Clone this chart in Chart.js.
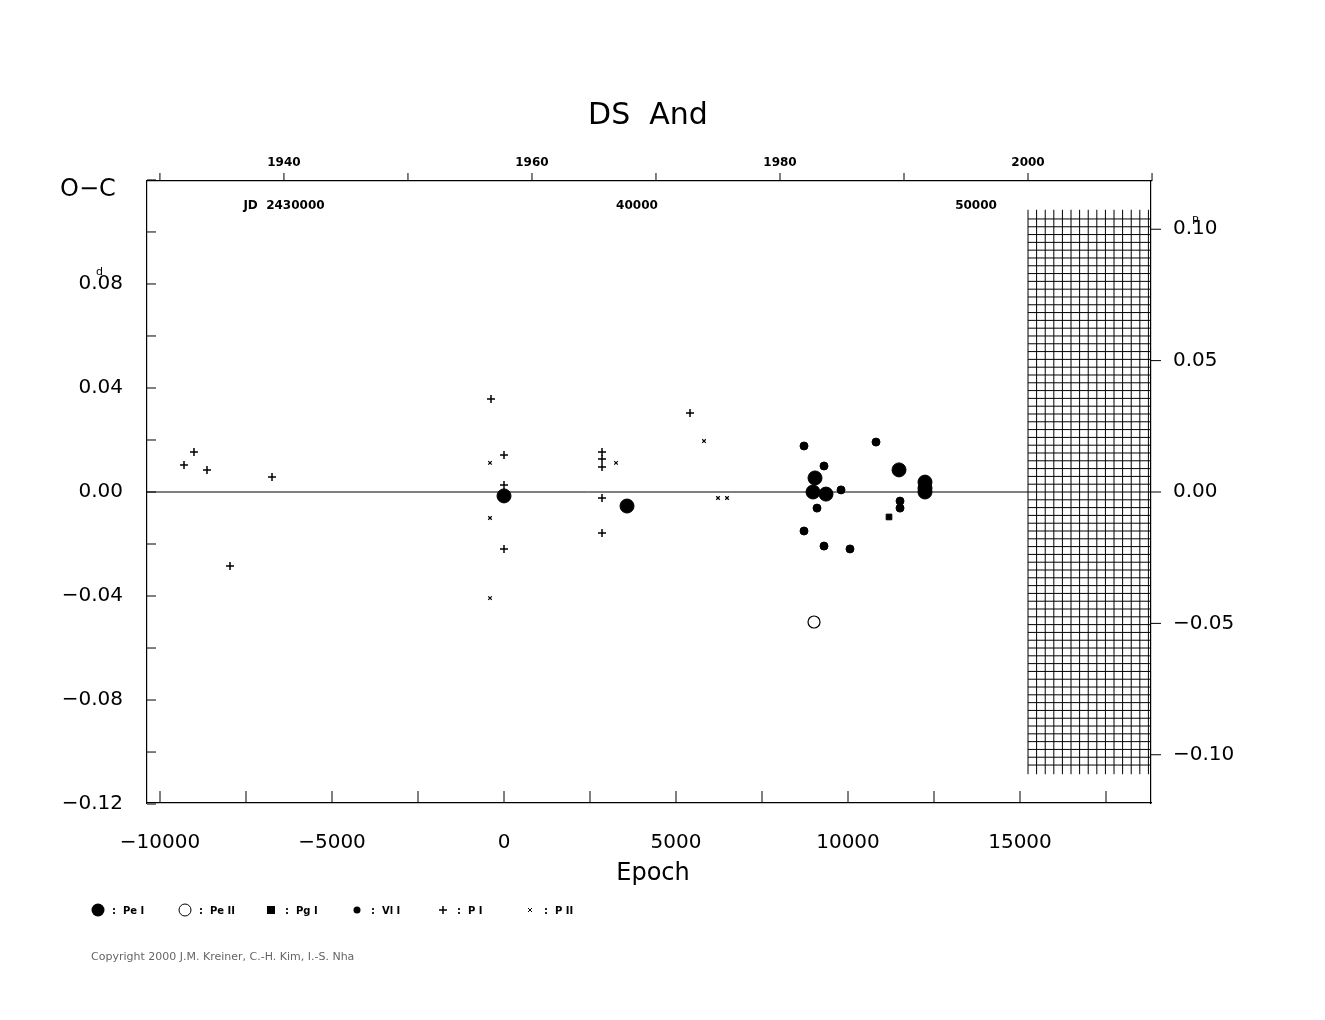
<!DOCTYPE html>
<html><head><meta charset="utf-8">
<script src="https://cdn.jsdelivr.net/npm/chart.js@4/dist/chart.umd.min.js"></script>
<style>html,body{margin:0;padding:0;background:#fff}#w{width:1325px;height:1020px}</style>
</head><body><div id="w"><canvas id="c"></canvas></div>
<script>
const peIEpoch=[0,3576,9041,8983,9360,11483,12238,12238,12238];
const peIOC=[-0.0015,-0.0054,0.0054,0.0,-0.0008,0.0085,0.0038,0.0015,0.0];
const peIIEpoch=[9012];
const peIIOC=[-0.0500];
const pgIEpoch=[11192];
const pgIOC=[-0.0096];
const vlIEpoch=[8721,9302,9797,9099,8721,9302,10058,10814,11512,11512];
const vlIOC=[0.0177,0.0100,0.0008,-0.0062,-0.0150,-0.0208,-0.0219,0.0192,-0.0035,-0.0062];
const pIEpoch=[-9302,-9012,-8634,-7965,-6744,-378,0,0,0,2849,2849,2849,2849,2849,5407];
const pIOC=[0.0104,0.0154,0.0085,-0.0285,0.0058,0.0358,0.0142,0.0027,-0.0219,0.0154,0.0127,0.0096,-0.0023,-0.0158,0.0304];
const pIIEpoch=[-407,-407,-407,3256,5814,6221,6483];
const pIIOC=[0.0112,-0.0100,-0.0408,0.0112,0.0196,-0.0023,-0.0023];
const yearTicks=[1930,1940,1950,1960,1970,1980,1990,2000,2010];
const jdLabels=[40000,50000];
const PERIOD=1.0105;
const epochOfYear=y=>15233+(y-2000)*360.5;
const epochOfJD=j=>3866+(j-40000)*0.9855;
const XMIN=-10378,XMAX=18808,YMAX=0.1196;

const pts=(xs,ys)=>xs.map((x,i)=>({x,y:ys[i]}));
const datasets=[
 {label:'Pe I',data:pts(peIEpoch,peIOC),pointStyle:'circle',radius:7,backgroundColor:'#000',borderColor:'#000'},
 {label:'Pe II',data:pts(peIIEpoch,peIIOC),pointStyle:'circle',radius:6,backgroundColor:'#fff',borderColor:'#000',borderWidth:1.2},
 {label:'Pg I',data:pts(pgIEpoch,pgIOC),pointStyle:'rect',radius:4,backgroundColor:'#000',borderColor:'#000'},
 {label:'Vl I',data:pts(vlIEpoch,vlIOC),pointStyle:'circle',radius:4,backgroundColor:'#000',borderColor:'#000'},
 {label:'P I',data:pts(pIEpoch,pIOC),pointStyle:'cross',radius:4,borderColor:'#000',borderWidth:1.5},
 {label:'P II',data:pts(pIIEpoch,pIIOC),pointStyle:'crossRot',radius:2.5,borderColor:'#000',borderWidth:1.2}
];
const F='"DejaVu Sans", sans-serif';
const deco={id:'deco',
 afterDatasetsDraw(ch){
  const c=ch.ctx,x=ch.scales.x,y=ch.scales.y,y2=ch.scales.y2,a=ch.chartArea;
  c.save();c.strokeStyle='#000';c.fillStyle='#000';c.lineWidth=1;
  // zero line
  const gx0=x.getPixelForValue(epochOfYear(2000));
  c.beginPath();c.moveTo(a.left,y.getPixelForValue(0));c.lineTo(gx0,y.getPixelForValue(0));c.stroke();
  // hatched grid
  const gt=y.getPixelForValue(0.107),gb=y.getPixelForValue(-0.107);
  c.beginPath();
  for(let e=epochOfYear(2000);e<=XMAX;e+=250){const px=x.getPixelForValue(e);c.moveTo(px,gt-4);c.lineTo(px,gb+4);}
  for(let v=-0.105;v<=0.1051;v+=0.003){const py=y.getPixelForValue(v);c.moveTo(gx0,py);c.lineTo(a.right,py);}
  c.stroke();
  // left ticks
  c.beginPath();
  for(let v=-0.12;v<=0.1201;v+=0.02){const py=y.getPixelForValue(v);c.moveTo(a.left,py);c.lineTo(a.left+9,py);}
  for(let e=-10000;e<=17500;e+=2500){const px=x.getPixelForValue(e);c.moveTo(px,a.bottom);c.lineTo(px,a.bottom-12);}
  for(let v=-0.1;v<=0.1001;v+=0.05){const py=y2.getPixelForValue(v);c.moveTo(a.right,py);c.lineTo(a.right+10,py);}
  yearTicks.forEach(yr=>{const px=x.getPixelForValue(epochOfYear(yr));c.moveTo(px,a.top-8);c.lineTo(px,a.top);});
  c.stroke();
  c.font='bold 12px '+F;c.textAlign='center';c.textBaseline='alphabetic';
  yearTicks.filter(yr=>yr%20===0).forEach(yr=>c.fillText(String(yr),x.getPixelForValue(epochOfYear(yr)),166));
  jdLabels.forEach(j=>c.fillText(String(j),x.getPixelForValue(epochOfJD(j)),209));
  c.fillText('JD  2430000',284,209);
  c.font='30px '+F;c.fillText('DS  And',648,124);
  c.font='24px '+F;c.fillText('Epoch',653,880);
  c.textAlign='left';c.fillText('O\u2212C',60,196);
  c.font='11px '+F;c.fillText('d',96,275);c.fillText('P',1192,224);
  // legend
  const lx=[98,185,271,357,443,530];
  c.font='bold 10px '+F;
  const names=['Pe I','Pe II','Pg I','Vl I','P I','P II'];
  lx.forEach((px,i)=>{
   c.beginPath();
   if(i===0){c.arc(px,910,6.5,0,7);c.fill();}
   else if(i===1){c.arc(px,910,6,0,7);c.stroke();}
   else if(i===2){c.fillRect(px-4,906,8,8);}
   else if(i===3){c.arc(px,910,3.5,0,7);c.fill();}
   else if(i===4){c.lineWidth=1.5;c.moveTo(px-4,910);c.lineTo(px+4,910);c.moveTo(px,906);c.lineTo(px,914);c.stroke();c.lineWidth=1;}
   else {c.moveTo(px-2,908);c.lineTo(px+2,912);c.moveTo(px+2,908);c.lineTo(px-2,912);c.stroke();}
   c.fillText(':  '+names[i],px+14,914);
  });
  c.fillStyle='#666';c.font='11px '+F;c.fillText('Copyright 2000 J.M. Kreiner, C.-H. Kim, I.-S. Nha',91,960);
  c.restore();
 }};
new Chart(document.getElementById('c'),{type:'scatter',data:{datasets},
 plugins:[deco],
 options:{responsive:true,maintainAspectRatio:false,animation:false,
  layout:{padding:0},
  plugins:{legend:{display:false},tooltip:{enabled:false},title:{display:false}},
  scales:{
   x:{type:'linear',min:XMIN,max:XMAX,position:'bottom',
      grid:{display:false},border:{color:'#000',width:1.2},
      ticks:{autoSkip:false,stepSize:2500,color:'#000',font:{size:20,family:F},padding:20,
       callback:v=>v%5000===0?(v<0?'\u2212'+(-v):String(v)):''},
      afterBuildTicks(s){s.ticks=[];for(let e=-10000;e<=15000;e+=2500)s.ticks.push({value:e});},
      afterFit(s){s.height=217;}},
   xTop:{type:'linear',min:XMIN,max:XMAX,position:'top',grid:{display:false},border:{color:'#000',width:1.2},
      ticks:{display:false},afterFit(s){s.height=181;}},
   y:{type:'linear',min:-YMAX,max:YMAX,position:'left',grid:{display:false},border:{color:'#000',width:1.2},
      ticks:{color:'#000',font:{size:20,family:F},padding:16,
       callback:v=>{const r=Math.round(v*100);return (r%4===0&&Math.abs(r)<=12&&r!==12)?(r<0?'\u2212':'')+Math.abs(v).toFixed(2):'';}},
      afterBuildTicks(s){s.ticks=[];for(let i=-6;i<=5;i++)s.ticks.push({value:i*0.02});},
      afterFit(s){s.width=147;}},
   y2:{type:'linear',min:-YMAX/PERIOD,max:YMAX/PERIOD,position:'right',grid:{display:false},border:{color:'#000',width:1.2},
      ticks:{color:'#000',font:{size:20,family:F},padding:14,
       callback:v=>(v<-1e-9?'\u2212':'')+Math.abs(v).toFixed(2)},
      afterBuildTicks(s){s.ticks=[-0.1,-0.05,0,0.05,0.1].map(v=>({value:v}));},
      afterFit(s){s.width=174;}}
  }}});
</script></body></html>
